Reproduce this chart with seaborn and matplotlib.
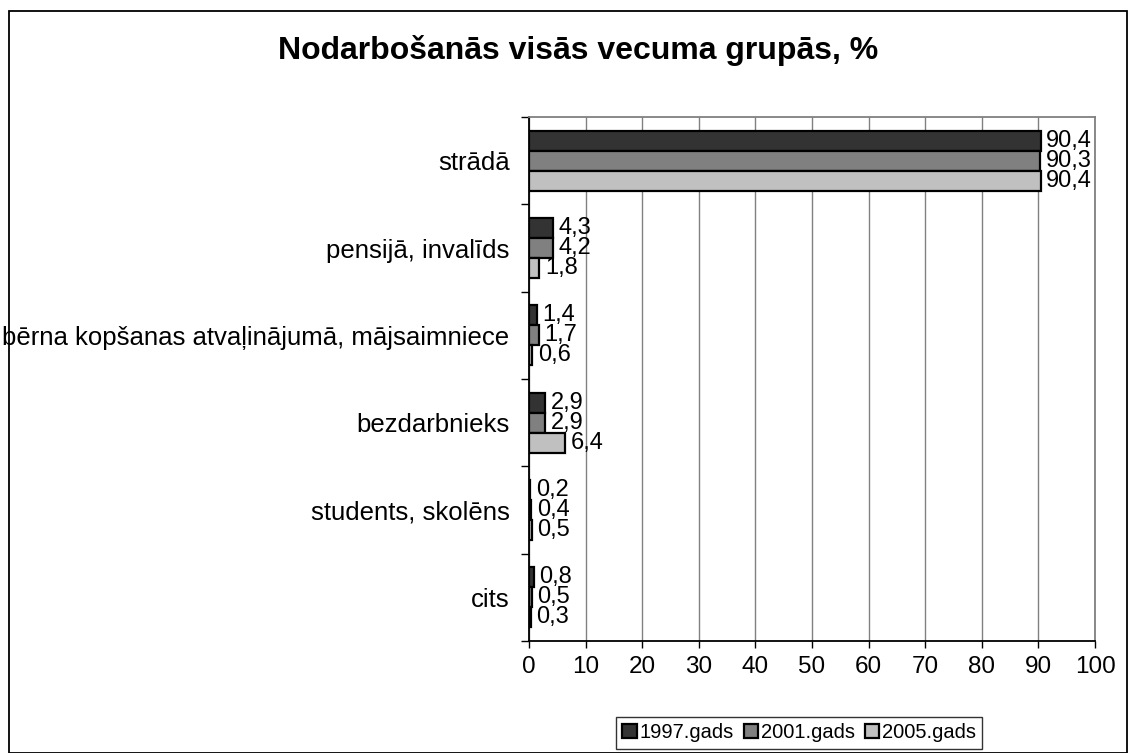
import pandas as pd
import numpy as np
import matplotlib.pyplot as plt
import seaborn as sns
from matplotlib.patches import Rectangle

# ==== Data ====
categories = ["strādā", "pensijā, invalīds",
              "bērna kopšanas atvaļinājumā, mājsaimniece",
              "bezdarbnieks", "students, skolēns", "cits"]
years = ["1997.gads", "2001.gads", "2005.gads"]
vals_1997 = [90.4, 4.3, 1.4, 2.9, 0.2, 0.8]
vals_2001 = [90.3, 4.2, 1.7, 2.9, 0.4, 0.5]
vals_2005 = [90.4, 1.8, 0.6, 6.4, 0.5, 0.3]
colors = ["#333333", "#808080", "#c0c0c0"]

df = pd.DataFrame({
    "cat": categories * 3,
    "year": [y for y in years for _ in categories],
    "val": vals_1997 + vals_2001 + vals_2005,
})

# ==== Plot ====
sns.set_style("white")
plt.rcParams["font.family"] = ["Liberation Sans", "DejaVu Sans"]
plt.rcParams["text.color"] = "black"
plt.rcParams["xtick.labelcolor"] = "black"
plt.rcParams["ytick.labelcolor"] = "black"

fig = plt.figure(figsize=(11.29, 7.53), dpi=100)
ax = fig.add_axes([0.4686, 0.1487, 0.5013, 0.6959])

sns.barplot(data=df, y="cat", x="val", hue="year", orient="h",
            palette=colors, order=categories, hue_order=years,
            width=0.69, edgecolor="black", linewidth=1.6, ax=ax,
            legend=True)

# value labels with comma decimals
for cont in ax.containers:
    ax.bar_label(cont, labels=[f"{v:.1f}".replace(".", ",") for v in cont.datavalues],
                 padding=4, fontsize=17, color="black")

ax.set_xlim(0, 100)
ax.set_ylim(len(categories) - 0.5, -0.5)
ax.set_xticks(np.arange(0, 101, 10))
ax.tick_params(axis="x", labelsize=17.5, length=5, width=1, direction="out",
               bottom=True, pad=6, color="black", labelcolor="black")
ax.tick_params(axis="y", which="major", labelsize=18.5, length=0, pad=14,
               labelcolor="black")
ax.set_yticks(np.arange(-0.5, len(categories), 1.0), minor=True)
ax.tick_params(axis="y", which="minor", length=6, width=1, direction="out",
               left=True, color="black")
ax.xaxis.grid(True, color="#808080", linewidth=1)
ax.set_axisbelow(True)
ax.set_xlabel("")
ax.set_ylabel("")
for s in ["left", "bottom"]:
    ax.spines[s].set_color("black")
    ax.spines[s].set_linewidth(1.3)
for s in ["top", "right"]:
    ax.spines[s].set_color("#808080")
    ax.spines[s].set_linewidth(1.3)

leg = ax.legend(loc="center", bbox_to_anchor=(0.708, 0.0266), bbox_transform=fig.transFigure,
                ncol=3, fontsize=14.5, frameon=True, fancybox=False, edgecolor="black",
                handlelength=0.7, handleheight=0.7, handletextpad=0.15, columnspacing=0.5,
                borderpad=0.3)
leg.get_frame().set_linewidth(1)
for t in leg.get_texts():
    t.set_color("black")

fig.text(0.512, 0.933, "Nodarbošanās visās vecuma grupās, %", ha="center", va="center",
         fontsize=23, fontweight="bold", color="black")

# outer chart border
fig.patches.append(Rectangle((9 / 1129, 0.0), 1118 / 1129, 742 / 753,
                             transform=fig.transFigure, fill=False,
                             edgecolor="black", linewidth=1.3))

fig.savefig("out.png", dpi=100)
